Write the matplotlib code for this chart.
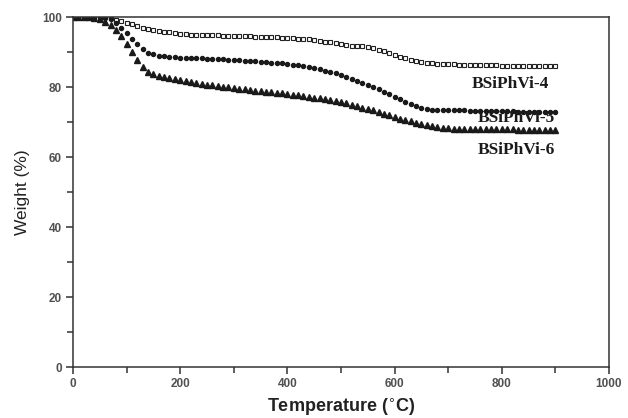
import matplotlib
matplotlib.use("Agg")
import matplotlib.pyplot as plt
import numpy as np
from matplotlib.ticker import MultipleLocator

# temperature grid (deg C)
temps = np.arange(0, 910, 10)

w_4 = [100, 100, 100, 100, 100, 100, 99.9, 99.6, 99.2, 98.8,
       98.3, 97.9, 97.4, 97.0, 96.6, 96.3, 96.0, 95.8, 95.6, 95.4,
       95.2, 95.1, 95.0, 95.0, 94.9, 94.9, 94.8, 94.8, 94.7, 94.7,
       94.6, 94.6, 94.5, 94.5, 94.4, 94.4, 94.3, 94.3, 94.2, 94.1,
       94.0, 93.9, 93.8, 93.7, 93.6, 93.4, 93.2, 93.0, 92.8, 92.5,
       92.2, 92.0, 91.8, 91.7, 91.6, 91.5, 91.1, 90.7, 90.2, 89.6,
       89.1, 88.6, 88.2, 87.8, 87.5, 87.2, 87.0, 86.8, 86.7, 86.6,
       86.5, 86.5, 86.4, 86.4, 86.3, 86.3, 86.3, 86.2, 86.2, 86.2,
       86.1, 86.1, 86.1, 86.1, 86.0, 86.0, 86.0, 86.0, 85.9, 85.9, 85.9]

w_5 = [100, 100, 100, 100, 100, 100, 99.8, 99.3, 98.4, 97.0,
       95.4, 93.8, 92.3, 90.8, 89.8, 89.3, 89.0, 88.8, 88.6, 88.5,
       88.4, 88.3, 88.3, 88.2, 88.2, 88.1, 88.0, 87.9, 87.9, 87.8,
       87.7, 87.6, 87.5, 87.4, 87.3, 87.2, 87.1, 87.0, 86.9, 86.8,
       86.6, 86.4, 86.2, 86.0, 85.7, 85.4, 85.1, 84.7, 84.3, 83.9,
       83.4, 82.9, 82.4, 81.8, 81.2, 80.6, 80.0, 79.3, 78.6, 77.9,
       77.2, 76.5, 75.8, 75.1, 74.5, 74.0, 73.7, 73.5, 73.4, 73.4,
       73.3, 73.3, 73.3, 73.3, 73.2, 73.2, 73.2, 73.2, 73.1, 73.1,
       73.1, 73.1, 73.1, 73.0, 73.0, 73.0, 73.0, 73.0, 73.0, 73.0, 73.0]

w_6 = [100, 100, 100, 100, 99.8, 99.3, 98.6, 97.6, 96.2, 94.5,
       92.3, 90.0, 87.8, 85.7, 84.3, 83.6, 83.2, 82.8, 82.5, 82.2,
       81.9, 81.6, 81.3, 81.1, 80.9, 80.7, 80.5, 80.3, 80.1, 79.9,
       79.7, 79.5, 79.3, 79.1, 78.95, 78.8, 78.7, 78.55, 78.4, 78.2,
       78.0, 77.8, 77.6, 77.4, 77.2, 77.0, 76.8, 76.6, 76.3, 76.0,
       75.6, 75.3, 74.9, 74.5, 74.1, 73.7, 73.3, 72.9, 72.4, 72.0,
       71.5, 71.0, 70.6, 70.2, 69.8, 69.4, 69.1, 68.8, 68.6, 68.4,
       68.3, 68.1, 68.1, 68.1, 68.0, 68.0, 68.0, 68.0, 67.9, 67.9,
       67.9, 67.9, 67.9, 67.8, 67.8, 67.8, 67.8, 67.8, 67.8, 67.8, 67.8]

labels = ["BSiPhVi-4", "BSiPhVi-5", "BSiPhVi-6"]
label_pos = [(744, 80.9), (756, 71.1), (756, 62.0)]

fig = plt.figure(figsize=(6.28, 4.18), dpi=100)
ax = fig.add_axes([73 / 628, 1 - 367 / 418, 536 / 628, 350 / 418])

ax.plot(temps, w_4, ls="none", marker="s", ms=2.9, mfc="white", mec="#222222", mew=0.8)
ax.plot(temps, w_5, ls="none", marker="o", ms=2.9, color="#1a1a1a")
ax.plot(temps, w_6, ls="none", marker="^", ms=3.9, color="#1a1a1a")

for txt, (x, y) in zip(labels, label_pos):
    ax.text(x, y, txt, family="Liberation Serif", fontweight="bold", fontsize=12.5,
            color="#1a1a1a", va="center", ha="left")

ax.set_xlim(0, 1000)
ax.set_ylim(0, 100)
ax.xaxis.set_major_locator(MultipleLocator(200))
ax.xaxis.set_minor_locator(MultipleLocator(100))
ax.yaxis.set_major_locator(MultipleLocator(20))
ax.yaxis.set_minor_locator(MultipleLocator(10))

for s in ax.spines.values():
    s.set_linewidth(1.1)
    s.set_color("#333333")

ax.tick_params(which="major", direction="out", length=5, width=1.1, color="#333333",
               top=False, right=False, labelsize=8.5, labelcolor="#505050", pad=3)
ax.tick_params(which="minor", direction="out", length=4, width=1.1, color="#333333",
               top=False, right=False)
for lab in ax.get_xticklabels() + ax.get_yticklabels():
    lab.set_family("Liberation Sans")
    lab.set_fontweight("bold")

ax.set_xlabel(r"Temperature ($^{\circ}$C)", family="Liberation Sans", fontweight="bold",
              fontsize=13, color="#222222", labelpad=5)
ax.set_ylabel("Weight (%)", family="Liberation Sans", fontsize=12.5, color="#222222",
              labelpad=9)

fig.savefig("out.png", dpi=100)
